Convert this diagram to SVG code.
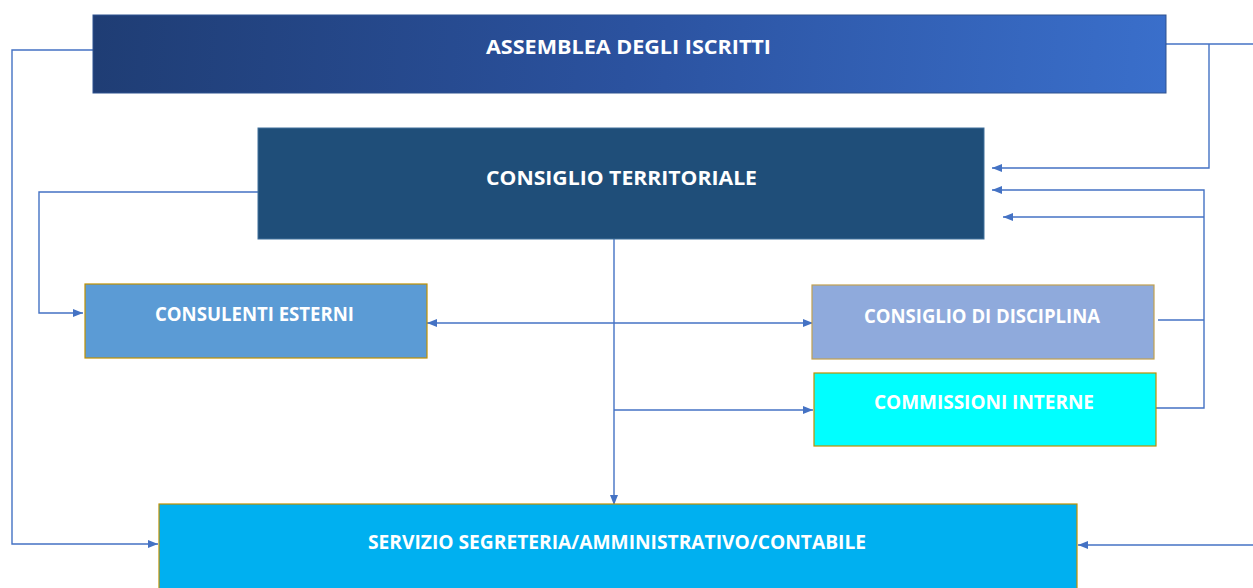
<svg xmlns="http://www.w3.org/2000/svg" width="1253" height="588" viewBox="0 0 1253 588">
  <defs>
    <linearGradient id="gAss" gradientUnits="userSpaceOnUse" x1="93" y1="15" x2="1166" y2="93">
      <stop offset="0" stop-color="#1f3d74"/>
      <stop offset="0.5" stop-color="#2b529f"/>
      <stop offset="1" stop-color="#3a6fcb"/>
    </linearGradient>
    <marker id="arr" markerUnits="userSpaceOnUse" markerWidth="11" markerHeight="9" refX="10" refY="4.5" orient="auto-start-reverse" viewBox="0 0 11 9">
      <path d="M0,0.5 L10,4.5 L0,8.5 Z" fill="#4472c4"/>
    </marker>
  </defs>
  <style>
    .lbl { font-family: "Open Sans", "Noto Sans", "Liberation Sans", sans-serif; font-weight: 700; font-size: 20px; fill: #ffffff; }
    .conn { fill: none; stroke: #4472c4; stroke-width: 1.4; }
    .gold { stroke: #bf9000; stroke-width: 1.2; }
  </style>
  <rect width="1253" height="588" fill="#ffffff"/>

  <g id="connectors">
    <path class="conn" d="M93,50 H12 V544 H158" marker-end="url(#arr)"/>
    <path class="conn" d="M1166,44 H1253"/>
    <path class="conn" d="M1209,44 V168 H992" marker-end="url(#arr)"/>
    <path class="conn" d="M1253,545 H1078" marker-end="url(#arr)"/>
    <path class="conn" d="M1158,320 H1204"/>
    <path class="conn" d="M1156,408 H1204 V190 H992" marker-end="url(#arr)"/>
    <path class="conn" d="M1204,217 H1003" marker-end="url(#arr)"/>
    <path class="conn" d="M258,192 H39 V313 H83" marker-end="url(#arr)"/>
    <path class="conn" d="M614,239 V505" marker-end="url(#arr)"/>
    <path class="conn" d="M427,323 H813" marker-start="url(#arr)" marker-end="url(#arr)"/>
    <path class="conn" d="M614,410 H813" marker-end="url(#arr)"/>
  </g>

  <g id="assemblea">
    <rect x="93" y="15" width="1073" height="78" fill="url(#gAss)" stroke="#2f528f" stroke-width="1"/>
    <text class="lbl" x="486" y="54" textLength="285" lengthAdjust="spacingAndGlyphs">ASSEMBLEA DEGLI ISCRITTI</text>
  </g>

  <g id="consiglio-territoriale">
    <rect x="258" y="128" width="726" height="111" fill="#1f4e79" stroke="#41719c" stroke-width="1"/>
    <text class="lbl" x="486" y="185" textLength="271" lengthAdjust="spacingAndGlyphs">CONSIGLIO TERRITORIALE</text>
  </g>

  <g id="consulenti-esterni">
    <rect class="gold" x="85" y="284" width="342" height="74" fill="#5b9bd5"/>
    <text class="lbl" x="155" y="321" textLength="199" lengthAdjust="spacingAndGlyphs">CONSULENTI ESTERNI</text>
  </g>

  <g id="consiglio-disciplina">
    <rect x="812" y="285" width="342" height="74" fill="#8faadc" stroke="#c0a050" stroke-width="1.2"/>
    <text class="lbl" x="864" y="323" textLength="236" lengthAdjust="spacingAndGlyphs">CONSIGLIO DI DISCIPLINA</text>
  </g>

  <g id="commissioni-interne">
    <rect class="gold" x="814" y="373" width="342" height="73" fill="#00ffff"/>
    <text class="lbl" x="874" y="409" textLength="220" lengthAdjust="spacingAndGlyphs">COMMISSIONI INTERNE</text>
  </g>

  <g id="servizio">
    <rect class="gold" x="159" y="504" width="918" height="100" fill="#00b0f0"/>
    <text class="lbl" x="368" y="549" textLength="498" lengthAdjust="spacingAndGlyphs">SERVIZIO SEGRETERIA/AMMINISTRATIVO/CONTABILE</text>
  </g>
</svg>
